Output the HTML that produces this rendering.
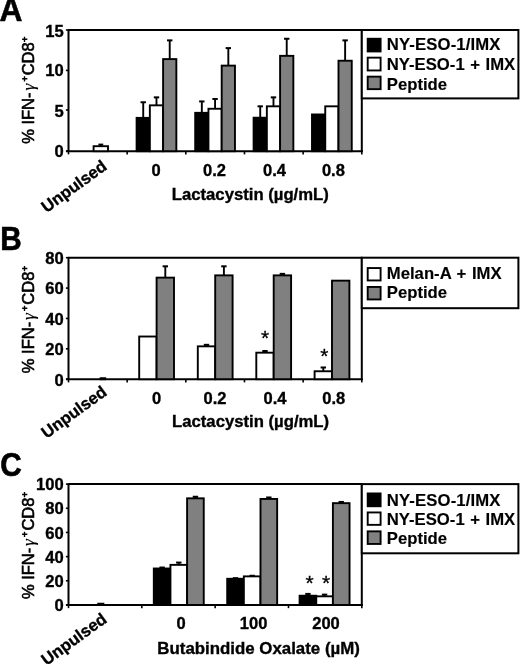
<!DOCTYPE html>
<html lang="en"><head><meta charset="utf-8"><title>Figure</title>
<style>
html,body{margin:0;padding:0;background:#fff;}
body{width:520px;height:664px;overflow:hidden;}
svg{display:block;will-change:transform;font-family:"Liberation Sans",Arial,Helvetica,sans-serif;fill:#000;}
</style></head><body>
<svg width="520" height="664" viewBox="0 0 520 664">
<rect width="520" height="664" fill="#fff"/>
<text transform="translate(-0.4,21.4) scale(1.06,1.11)" font-size="30" font-weight="bold" stroke="#000" stroke-width="0.5">A</text>
<line x1="68.5" y1="30.0" x2="361.8" y2="30.0" stroke="#000" stroke-width="2.0"/>
<line x1="68.5" y1="29.2" x2="68.5" y2="152.0" stroke="#000" stroke-width="2.0"/>
<line x1="361.8" y1="29.2" x2="361.8" y2="152.0" stroke="#000" stroke-width="2.0"/>
<line x1="66.0" y1="151.2" x2="362.8" y2="151.2" stroke="#000" stroke-width="1.9"/>
<line x1="65.9" y1="30.0" x2="68.5" y2="30.0" stroke="#000" stroke-width="1.6"/>
<text x="63.8" y="36.7" font-size="16.6" font-weight="bold" text-anchor="end" stroke="#000" stroke-width="0.35" >15</text>
<line x1="65.9" y1="70.4" x2="68.5" y2="70.4" stroke="#000" stroke-width="1.6"/>
<text x="63.8" y="75.8" font-size="16.6" font-weight="bold" text-anchor="end" stroke="#000" stroke-width="0.35" >10</text>
<line x1="65.9" y1="110.0" x2="68.5" y2="110.0" stroke="#000" stroke-width="1.6"/>
<text x="63.8" y="116.6" font-size="16.6" font-weight="bold" text-anchor="end" stroke="#000" stroke-width="0.35" >5</text>
<line x1="65.9" y1="151.2" x2="68.5" y2="151.2" stroke="#000" stroke-width="1.6"/>
<text x="63.8" y="156.9" font-size="16.6" font-weight="bold" text-anchor="end" stroke="#000" stroke-width="0.35" >0</text>
<line x1="68.5" y1="151.2" x2="68.5" y2="154.39999999999998" stroke="#000" stroke-width="1.6"/>
<line x1="127.16" y1="151.2" x2="127.16" y2="154.39999999999998" stroke="#000" stroke-width="1.6"/>
<line x1="185.82" y1="151.2" x2="185.82" y2="154.39999999999998" stroke="#000" stroke-width="1.6"/>
<line x1="244.48000000000002" y1="151.2" x2="244.48000000000002" y2="154.39999999999998" stroke="#000" stroke-width="1.6"/>
<line x1="303.14" y1="151.2" x2="303.14" y2="154.39999999999998" stroke="#000" stroke-width="1.6"/>
<line x1="361.8" y1="151.2" x2="361.8" y2="154.39999999999998" stroke="#000" stroke-width="1.6"/>
<g transform="translate(33.7,143.8) rotate(-90)" font-size="16.5" stroke="#000" stroke-width="0.6"><text x="0" y="0">% IFN-</text><text x="53.2" y="0" font-family="Liberation Serif, serif" font-style="italic" font-size="17.5" stroke-width="0.15">γ</text><text x="62.2" y="-5.6" font-size="9.4" stroke-width="0.7">+</text><text x="68.5" y="0">CD8</text><text x="101.9" y="-5.6" font-size="9.4" stroke-width="0.7">+</text></g>
<rect x="93.6" y="146.2" width="14.4" height="5.0" fill="#fff" stroke="#000" stroke-width="1.9"/>
<line x1="100.8" y1="144.6" x2="100.8" y2="146.2" stroke="#000" stroke-width="1.9"/>
<line x1="98.39999999999999" y1="144.6" x2="103.2" y2="144.6" stroke="#000" stroke-width="2.0"/>
<line x1="143.225" y1="102.25" x2="143.225" y2="117.87" stroke="#000" stroke-width="1.9"/>
<line x1="140.525" y1="102.25" x2="145.92499999999998" y2="102.25" stroke="#000" stroke-width="2.0"/>
<rect x="136.6" y="117.87" width="13.25" height="33.33" fill="#000" stroke="#000" stroke-width="1.9"/>
<line x1="156.475" y1="97.36" x2="156.475" y2="105.34" stroke="#000" stroke-width="1.9"/>
<line x1="153.775" y1="97.36" x2="159.17499999999998" y2="97.36" stroke="#000" stroke-width="2.0"/>
<rect x="149.85" y="105.34" width="13.25" height="45.86" fill="#fff" stroke="#000" stroke-width="1.9"/>
<line x1="169.725" y1="40.38" x2="169.725" y2="59.1" stroke="#000" stroke-width="1.9"/>
<line x1="167.025" y1="40.38" x2="172.42499999999998" y2="40.38" stroke="#000" stroke-width="2.0"/>
<rect x="163.1" y="59.1" width="13.25" height="92.1" fill="#808080" stroke="#000" stroke-width="1.9"/>
<line x1="201.825" y1="101.43" x2="201.825" y2="112.83" stroke="#000" stroke-width="1.9"/>
<line x1="199.125" y1="101.43" x2="204.52499999999998" y2="101.43" stroke="#000" stroke-width="2.0"/>
<rect x="195.2" y="112.83" width="13.25" height="38.37" fill="#000" stroke="#000" stroke-width="1.9"/>
<line x1="215.075" y1="98.99" x2="215.075" y2="108.76" stroke="#000" stroke-width="1.9"/>
<line x1="212.375" y1="98.99" x2="217.77499999999998" y2="98.99" stroke="#000" stroke-width="2.0"/>
<rect x="208.45" y="108.76" width="13.25" height="42.44" fill="#fff" stroke="#000" stroke-width="1.9"/>
<line x1="228.325" y1="48.11" x2="228.325" y2="65.62" stroke="#000" stroke-width="1.9"/>
<line x1="225.625" y1="48.11" x2="231.02499999999998" y2="48.11" stroke="#000" stroke-width="2.0"/>
<rect x="221.7" y="65.62" width="13.25" height="85.58" fill="#808080" stroke="#000" stroke-width="1.9"/>
<line x1="260.225" y1="106.32" x2="260.225" y2="117.71" stroke="#000" stroke-width="1.9"/>
<line x1="257.52500000000003" y1="106.32" x2="262.925" y2="106.32" stroke="#000" stroke-width="2.0"/>
<rect x="253.6" y="117.71" width="13.25" height="33.49" fill="#000" stroke="#000" stroke-width="1.9"/>
<line x1="273.475" y1="97.36" x2="273.475" y2="106.32" stroke="#000" stroke-width="1.9"/>
<line x1="270.77500000000003" y1="97.36" x2="276.175" y2="97.36" stroke="#000" stroke-width="2.0"/>
<rect x="266.85" y="106.32" width="13.25" height="44.88" fill="#fff" stroke="#000" stroke-width="1.9"/>
<line x1="286.725" y1="38.75" x2="286.725" y2="55.85" stroke="#000" stroke-width="1.9"/>
<line x1="284.02500000000003" y1="38.75" x2="289.425" y2="38.75" stroke="#000" stroke-width="2.0"/>
<rect x="280.1" y="55.85" width="13.25" height="95.35" fill="#808080" stroke="#000" stroke-width="1.9"/>
<rect x="312.0" y="114.46" width="13.25" height="36.74" fill="#000" stroke="#000" stroke-width="1.9"/>
<rect x="325.25" y="106.32" width="13.25" height="44.88" fill="#fff" stroke="#000" stroke-width="1.9"/>
<line x1="345.125" y1="40.38" x2="345.125" y2="60.73" stroke="#000" stroke-width="1.9"/>
<line x1="342.425" y1="40.38" x2="347.825" y2="40.38" stroke="#000" stroke-width="2.0"/>
<rect x="338.5" y="60.73" width="13.25" height="90.47" fill="#808080" stroke="#000" stroke-width="1.9"/>
<text x="156.2" y="175.8" font-size="16.5" font-weight="bold" text-anchor="middle" stroke="#000" stroke-width="0.35" >0</text>
<text x="214.5" y="175.8" font-size="16.5" font-weight="bold" text-anchor="middle" stroke="#000" stroke-width="0.35" >0.2</text>
<text x="274.5" y="175.8" font-size="16.5" font-weight="bold" text-anchor="middle" stroke="#000" stroke-width="0.35" >0.4</text>
<text x="333.4" y="175.8" font-size="16.5" font-weight="bold" text-anchor="middle" stroke="#000" stroke-width="0.35" >0.8</text>
<text x="250.3" y="199.7" font-size="16.7" font-weight="bold" text-anchor="middle" stroke="#000" stroke-width="0.35" >Lactacystin (µg/mL)</text>
<text transform="translate(108,168.5) rotate(-36)" font-size="16.7" font-weight="bold" text-anchor="end" stroke="#000" stroke-width="0.35">Unpulsed</text>
<rect x="361.8" y="30.0" width="156.6" height="68.4" fill="#fff" stroke="#000" stroke-width="2.0"/>
<rect x="367.7" y="38.75" width="12.9" height="12.7" fill="#000" stroke="#000" stroke-width="1.9"/>
<text x="386.8" y="50.45" font-size="16.7" font-weight="bold" text-anchor="start" stroke="#000" stroke-width="0.15" letter-spacing="0.13">NY-ESO-1/IMX</text>
<rect x="367.7" y="57.65" width="12.9" height="12.8" fill="#fff" stroke="#000" stroke-width="1.9"/>
<text x="386.8" y="69.55" font-size="16.7" font-weight="bold" text-anchor="start" stroke="#000" stroke-width="0.15" word-spacing="0.9">NY-ESO-1 + IMX</text>
<rect x="367.7" y="76.65" width="12.9" height="12.5" fill="#808080" stroke="#000" stroke-width="1.9"/>
<text x="386.8" y="89.5" font-size="16.7" font-weight="bold" text-anchor="start" stroke="#000" stroke-width="0.15" word-spacing="0.9">Peptide</text>
<text transform="translate(0.2,249.7) scale(0.99,1.10)" font-size="30" font-weight="bold" stroke="#000" stroke-width="0.6">B</text>
<line x1="68.5" y1="257.7" x2="361.8" y2="257.7" stroke="#000" stroke-width="2.0"/>
<line x1="68.5" y1="256.9" x2="68.5" y2="380.0" stroke="#000" stroke-width="2.0"/>
<line x1="361.8" y1="256.9" x2="361.8" y2="380.0" stroke="#000" stroke-width="2.0"/>
<line x1="66.0" y1="379.2" x2="362.8" y2="379.2" stroke="#000" stroke-width="1.9"/>
<line x1="65.9" y1="257.7" x2="68.5" y2="257.7" stroke="#000" stroke-width="1.6"/>
<text x="63.8" y="264.4" font-size="16.6" font-weight="bold" text-anchor="end" stroke="#000" stroke-width="0.35" >80</text>
<line x1="65.9" y1="288.075" x2="68.5" y2="288.075" stroke="#000" stroke-width="1.6"/>
<text x="63.8" y="294.47" font-size="16.6" font-weight="bold" text-anchor="end" stroke="#000" stroke-width="0.35" >60</text>
<line x1="65.9" y1="318.45" x2="68.5" y2="318.45" stroke="#000" stroke-width="1.6"/>
<text x="63.8" y="324.65" font-size="16.6" font-weight="bold" text-anchor="end" stroke="#000" stroke-width="0.35" >40</text>
<line x1="65.9" y1="348.825" x2="68.5" y2="348.825" stroke="#000" stroke-width="1.6"/>
<text x="63.8" y="355.22" font-size="16.6" font-weight="bold" text-anchor="end" stroke="#000" stroke-width="0.35" >20</text>
<line x1="65.9" y1="379.2" x2="68.5" y2="379.2" stroke="#000" stroke-width="1.6"/>
<text x="63.8" y="385.9" font-size="16.6" font-weight="bold" text-anchor="end" stroke="#000" stroke-width="0.35" >0</text>
<line x1="68.5" y1="379.2" x2="68.5" y2="382.4" stroke="#000" stroke-width="1.6"/>
<line x1="127.16" y1="379.2" x2="127.16" y2="382.4" stroke="#000" stroke-width="1.6"/>
<line x1="185.82" y1="379.2" x2="185.82" y2="382.4" stroke="#000" stroke-width="1.6"/>
<line x1="244.48000000000002" y1="379.2" x2="244.48000000000002" y2="382.4" stroke="#000" stroke-width="1.6"/>
<line x1="303.14" y1="379.2" x2="303.14" y2="382.4" stroke="#000" stroke-width="1.6"/>
<line x1="361.8" y1="379.2" x2="361.8" y2="382.4" stroke="#000" stroke-width="1.6"/>
<g transform="translate(33.7,373.2) rotate(-90)" font-size="16.5" stroke="#000" stroke-width="0.6"><text x="0" y="0">% IFN-</text><text x="53.2" y="0" font-family="Liberation Serif, serif" font-style="italic" font-size="17.5" stroke-width="0.15">γ</text><text x="62.2" y="-5.6" font-size="9.4" stroke-width="0.7">+</text><text x="68.5" y="0">CD8</text><text x="101.9" y="-5.6" font-size="9.4" stroke-width="0.7">+</text></g>
<rect x="100.6" y="378.2" width="4.6" height="1.0" fill="#000" stroke="#000" stroke-width="1.9"/>
<rect x="139.2" y="336.52" width="17.4" height="42.68" fill="#fff" stroke="#000" stroke-width="1.9"/>
<line x1="165.29999999999998" y1="266.31" x2="165.29999999999998" y2="277.63" stroke="#000" stroke-width="1.9"/>
<line x1="162.6" y1="266.31" x2="167.99999999999997" y2="266.31" stroke="#000" stroke-width="2.0"/>
<rect x="156.6" y="277.63" width="17.4" height="101.57" fill="#808080" stroke="#000" stroke-width="1.9"/>
<line x1="206.5" y1="344.82" x2="206.5" y2="346.34" stroke="#000" stroke-width="1.9"/>
<line x1="203.8" y1="344.82" x2="209.2" y2="344.82" stroke="#000" stroke-width="2.0"/>
<rect x="197.8" y="346.34" width="17.4" height="32.86" fill="#fff" stroke="#000" stroke-width="1.9"/>
<line x1="223.9" y1="266.31" x2="223.9" y2="275.37" stroke="#000" stroke-width="1.9"/>
<line x1="221.20000000000002" y1="266.31" x2="226.6" y2="266.31" stroke="#000" stroke-width="2.0"/>
<rect x="215.20000000000002" y="275.37" width="17.4" height="103.83" fill="#808080" stroke="#000" stroke-width="1.9"/>
<line x1="265.0" y1="351.02" x2="265.0" y2="352.68" stroke="#000" stroke-width="1.9"/>
<line x1="262.3" y1="351.02" x2="267.7" y2="351.02" stroke="#000" stroke-width="2.0"/>
<rect x="256.3" y="352.68" width="17.4" height="26.52" fill="#fff" stroke="#000" stroke-width="1.9"/>
<line x1="282.4" y1="273.86" x2="282.4" y2="275.37" stroke="#000" stroke-width="1.9"/>
<line x1="279.7" y1="273.86" x2="285.09999999999997" y2="273.86" stroke="#000" stroke-width="2.0"/>
<rect x="273.7" y="275.37" width="17.4" height="103.83" fill="#808080" stroke="#000" stroke-width="1.9"/>
<line x1="323.3" y1="367.48" x2="323.3" y2="371.25" stroke="#000" stroke-width="1.9"/>
<line x1="320.6" y1="367.48" x2="326.0" y2="367.48" stroke="#000" stroke-width="2.0"/>
<rect x="314.6" y="371.25" width="17.4" height="7.95" fill="#fff" stroke="#000" stroke-width="1.9"/>
<rect x="332.0" y="280.65" width="17.4" height="98.55" fill="#808080" stroke="#000" stroke-width="1.9"/>
<text x="156.6" y="404.2" font-size="16.5" font-weight="bold" text-anchor="middle" stroke="#000" stroke-width="0.35" >0</text>
<text x="215" y="404.2" font-size="16.5" font-weight="bold" text-anchor="middle" stroke="#000" stroke-width="0.35" >0.2</text>
<text x="275" y="404.2" font-size="16.5" font-weight="bold" text-anchor="middle" stroke="#000" stroke-width="0.35" >0.4</text>
<text x="333.8" y="404.2" font-size="16.5" font-weight="bold" text-anchor="middle" stroke="#000" stroke-width="0.35" >0.8</text>
<text x="250.6" y="426.8" font-size="16.7" font-weight="bold" text-anchor="middle" stroke="#000" stroke-width="0.35" >Lactacystin (µg/mL)</text>
<text transform="translate(108,394.2) rotate(-36)" font-size="16.7" font-weight="bold" text-anchor="end" stroke="#000" stroke-width="0.35">Unpulsed</text>
<text x="265.0" y="345.3" font-size="21" font-weight="normal" text-anchor="middle" stroke="#000" stroke-width="0.3" >*</text>
<text x="324.4" y="363.0" font-size="21" font-weight="normal" text-anchor="middle" stroke="#000" stroke-width="0.3" >*</text>
<rect x="361.8" y="257.7" width="156.6" height="50.5" fill="#fff" stroke="#000" stroke-width="2.0"/>
<rect x="367.7" y="268.05" width="12.9" height="12.4" fill="#fff" stroke="#000" stroke-width="1.9"/>
<text x="386.8" y="278.9" font-size="16.7" font-weight="bold" text-anchor="start" stroke="#000" stroke-width="0.15" word-spacing="0.9">Melan-A + IMX</text>
<rect x="367.7" y="286.95" width="12.9" height="12.5" fill="#808080" stroke="#000" stroke-width="1.9"/>
<text x="386.8" y="298.0" font-size="16.7" font-weight="bold" text-anchor="start" stroke="#000" stroke-width="0.15" word-spacing="0.9">Peptide</text>
<text transform="translate(0.2,476.4) scale(0.99,1.10)" font-size="30" font-weight="bold" stroke="#000" stroke-width="0.6">C</text>
<line x1="68.5" y1="484.1" x2="361.8" y2="484.1" stroke="#000" stroke-width="2.0"/>
<line x1="68.5" y1="483.3" x2="68.5" y2="605.75" stroke="#000" stroke-width="2.0"/>
<line x1="361.8" y1="483.3" x2="361.8" y2="605.75" stroke="#000" stroke-width="2.0"/>
<line x1="66.0" y1="604.95" x2="362.8" y2="604.95" stroke="#000" stroke-width="1.9"/>
<line x1="65.9" y1="484.1" x2="68.5" y2="484.1" stroke="#000" stroke-width="1.6"/>
<text x="63.8" y="490.3" font-size="16.6" font-weight="bold" text-anchor="end" stroke="#000" stroke-width="0.35" >100</text>
<line x1="65.9" y1="508.27000000000004" x2="68.5" y2="508.27000000000004" stroke="#000" stroke-width="1.6"/>
<text x="63.8" y="514.47" font-size="16.6" font-weight="bold" text-anchor="end" stroke="#000" stroke-width="0.35" >80</text>
<line x1="65.9" y1="532.44" x2="68.5" y2="532.44" stroke="#000" stroke-width="1.6"/>
<text x="63.8" y="539.34" font-size="16.6" font-weight="bold" text-anchor="end" stroke="#000" stroke-width="0.35" >60</text>
<line x1="65.9" y1="556.61" x2="68.5" y2="556.61" stroke="#000" stroke-width="1.6"/>
<text x="63.8" y="562.81" font-size="16.6" font-weight="bold" text-anchor="end" stroke="#000" stroke-width="0.35" >40</text>
<line x1="65.9" y1="580.78" x2="68.5" y2="580.78" stroke="#000" stroke-width="1.6"/>
<text x="63.8" y="586.98" font-size="16.6" font-weight="bold" text-anchor="end" stroke="#000" stroke-width="0.35" >20</text>
<line x1="65.9" y1="604.95" x2="68.5" y2="604.95" stroke="#000" stroke-width="1.6"/>
<text x="63.8" y="611.15" font-size="16.6" font-weight="bold" text-anchor="end" stroke="#000" stroke-width="0.35" >0</text>
<line x1="68.5" y1="604.95" x2="68.5" y2="608.1500000000001" stroke="#000" stroke-width="1.6"/>
<line x1="141.825" y1="604.95" x2="141.825" y2="608.1500000000001" stroke="#000" stroke-width="1.6"/>
<line x1="215.15" y1="604.95" x2="215.15" y2="608.1500000000001" stroke="#000" stroke-width="1.6"/>
<line x1="288.475" y1="604.95" x2="288.475" y2="608.1500000000001" stroke="#000" stroke-width="1.6"/>
<line x1="361.8" y1="604.95" x2="361.8" y2="608.1500000000001" stroke="#000" stroke-width="1.6"/>
<g transform="translate(33.7,599.1) rotate(-90)" font-size="16.5" stroke="#000" stroke-width="0.6"><text x="0" y="0">% IFN-</text><text x="53.2" y="0" font-family="Liberation Serif, serif" font-style="italic" font-size="17.5" stroke-width="0.15">γ</text><text x="62.2" y="-5.6" font-size="9.4" stroke-width="0.7">+</text><text x="68.5" y="0">CD8</text><text x="101.9" y="-5.6" font-size="9.4" stroke-width="0.7">+</text></g>
<rect x="98.2" y="603.7" width="5.2" height="1.25" fill="#000" stroke="#000" stroke-width="1.9"/>
<line x1="162.125" y1="567.53" x2="162.125" y2="568.5" stroke="#000" stroke-width="1.9"/>
<line x1="159.425" y1="567.53" x2="164.825" y2="567.53" stroke="#000" stroke-width="2.0"/>
<rect x="153.8" y="568.5" width="16.65" height="36.45" fill="#000" stroke="#000" stroke-width="1.9"/>
<line x1="178.775" y1="562.57" x2="178.775" y2="564.87" stroke="#000" stroke-width="1.9"/>
<line x1="176.07500000000002" y1="562.57" x2="181.475" y2="562.57" stroke="#000" stroke-width="2.0"/>
<rect x="170.45000000000002" y="564.87" width="16.65" height="40.08" fill="#fff" stroke="#000" stroke-width="1.9"/>
<line x1="195.425" y1="496.75" x2="195.425" y2="498.32" stroke="#000" stroke-width="1.9"/>
<line x1="192.72500000000002" y1="496.75" x2="198.125" y2="496.75" stroke="#000" stroke-width="2.0"/>
<rect x="187.10000000000002" y="498.32" width="16.65" height="106.63" fill="#808080" stroke="#000" stroke-width="1.9"/>
<line x1="235.52499999999998" y1="578.18" x2="235.52499999999998" y2="578.78" stroke="#000" stroke-width="1.9"/>
<line x1="232.825" y1="578.18" x2="238.22499999999997" y2="578.18" stroke="#000" stroke-width="2.0"/>
<rect x="227.2" y="578.78" width="16.65" height="26.17" fill="#000" stroke="#000" stroke-width="1.9"/>
<line x1="252.17499999999998" y1="575.76" x2="252.17499999999998" y2="576.37" stroke="#000" stroke-width="1.9"/>
<line x1="249.475" y1="575.76" x2="254.87499999999997" y2="575.76" stroke="#000" stroke-width="2.0"/>
<rect x="243.85" y="576.37" width="16.65" height="28.58" fill="#fff" stroke="#000" stroke-width="1.9"/>
<line x1="268.825" y1="497.47" x2="268.825" y2="498.93" stroke="#000" stroke-width="1.9"/>
<line x1="266.125" y1="497.47" x2="271.525" y2="497.47" stroke="#000" stroke-width="2.0"/>
<rect x="260.5" y="498.93" width="16.65" height="106.02" fill="#808080" stroke="#000" stroke-width="1.9"/>
<line x1="307.925" y1="593.91" x2="307.925" y2="595.72" stroke="#000" stroke-width="1.9"/>
<line x1="305.225" y1="593.91" x2="310.625" y2="593.91" stroke="#000" stroke-width="2.0"/>
<rect x="299.6" y="595.72" width="16.65" height="9.23" fill="#000" stroke="#000" stroke-width="1.9"/>
<line x1="324.575" y1="594.64" x2="324.575" y2="596.33" stroke="#000" stroke-width="1.9"/>
<line x1="321.875" y1="594.64" x2="327.275" y2="594.64" stroke="#000" stroke-width="2.0"/>
<rect x="316.25" y="596.33" width="16.65" height="8.62" fill="#fff" stroke="#000" stroke-width="1.9"/>
<line x1="341.225" y1="501.95" x2="341.225" y2="503.16" stroke="#000" stroke-width="1.9"/>
<line x1="338.52500000000003" y1="501.95" x2="343.925" y2="501.95" stroke="#000" stroke-width="2.0"/>
<rect x="332.90000000000003" y="503.16" width="16.65" height="101.79" fill="#808080" stroke="#000" stroke-width="1.9"/>
<text x="181.0" y="629" font-size="16.5" font-weight="bold" text-anchor="middle" stroke="#000" stroke-width="0.35" >0</text>
<text x="253.6" y="629" font-size="16.5" font-weight="bold" text-anchor="middle" stroke="#000" stroke-width="0.35" >100</text>
<text x="326.0" y="629" font-size="16.5" font-weight="bold" text-anchor="middle" stroke="#000" stroke-width="0.35" >200</text>
<text x="258.6" y="653.6" font-size="16.85" font-weight="bold" text-anchor="middle" stroke="#000" stroke-width="0.35" >Butabindide Oxalate (µM)</text>
<text transform="translate(108,621.4) rotate(-36)" font-size="16.7" font-weight="bold" text-anchor="end" stroke="#000" stroke-width="0.35">Unpulsed</text>
<text x="309.5" y="589.6" font-size="21" font-weight="normal" text-anchor="middle" stroke="#000" stroke-width="0.3" >*</text>
<text x="326.1" y="589.6" font-size="21" font-weight="normal" text-anchor="middle" stroke="#000" stroke-width="0.3" >*</text>
<rect x="361.8" y="484.1" width="156.6" height="69.2" fill="#fff" stroke="#000" stroke-width="2.0"/>
<rect x="367.7" y="493.45" width="12.9" height="12.8" fill="#000" stroke="#000" stroke-width="1.9"/>
<text x="386.8" y="505.5" font-size="16.7" font-weight="bold" text-anchor="start" stroke="#000" stroke-width="0.15" letter-spacing="0.13">NY-ESO-1/IMX</text>
<rect x="367.7" y="512.45" width="12.9" height="12.4" fill="#fff" stroke="#000" stroke-width="1.9"/>
<text x="386.8" y="524.5" font-size="16.7" font-weight="bold" text-anchor="start" stroke="#000" stroke-width="0.15" word-spacing="0.9">NY-ESO-1 + IMX</text>
<rect x="367.7" y="531.35" width="12.9" height="12.6" fill="#808080" stroke="#000" stroke-width="1.9"/>
<text x="386.8" y="543.9" font-size="16.7" font-weight="bold" text-anchor="start" stroke="#000" stroke-width="0.15" word-spacing="0.9">Peptide</text>
</svg>
</body></html>
